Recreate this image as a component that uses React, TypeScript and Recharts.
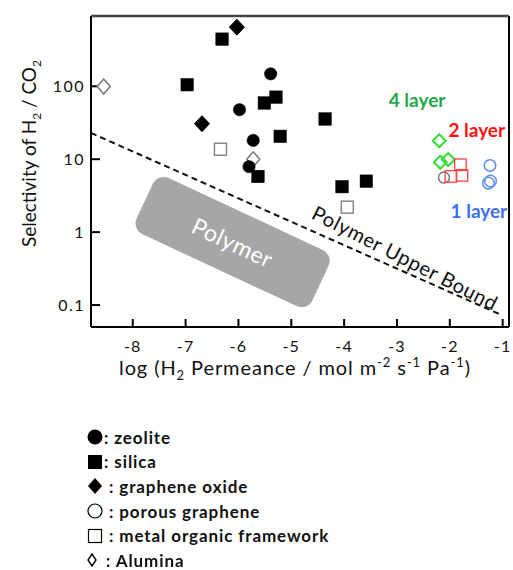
import {
  ComposedChart, Scatter, Line, XAxis, YAxis,
  ReferenceLine, ReferenceDot, Legend,
} from "recharts";

const FONT = "Lato, 'Open Sans', sans-serif";

// axes
const xTicks = [-8, -7, -6, -5, -4, -3, -2, -1];
const yTicks = [0.1, 1, 10, 100];
const xDomain = [-8.79, -0.88];
const yDomain = [0.05, 920];

// x = log permeance, y = selectivity
const zeolite = [
  { x: -5.39, y: 148 },
  { x: -5.98, y: 47.7 },
  { x: -5.72, y: 18.1 },
  { x: -5.8, y: 7.9 },
];
const silica = [
  { x: -6.31, y: 443 },
  { x: -6.97, y: 105 },
  { x: -5.51, y: 59 },
  { x: -5.29, y: 71 },
  { x: -5.21, y: 20.6 },
  { x: -5.63, y: 5.8 },
  { x: -4.36, y: 35.6 },
  { x: -4.04, y: 4.2 },
  { x: -3.58, y: 5.0 },
];
const grapheneOxide = [
  { x: -6.03, y: 646 },
  { x: -6.69, y: 30.7 },
];
const porousGraphene = [{ x: -2.11, y: 5.6 }];
const mof = [
  { x: -6.34, y: 13.7 },
  { x: -3.94, y: 2.2 },
];
const alumina = [
  { x: -8.55, y: 99 },
  { x: -5.72, y: 10 },
];
const layer1 = [
  { x: -1.24, y: 8.2 },
  { x: -1.27, y: 4.7 },
  { x: -1.23, y: 5.0 },
];
const layer2 = [
  { x: -1.8, y: 8.4 },
  { x: -1.77, y: 6.0 },
  { x: -1.98, y: 5.8 },
];
const layer4 = [
  { x: -2.2, y: 17.9 },
  { x: -2.18, y: 9.1 },
  { x: -2.03, y: 9.9 },
];
const upperBound = [
  { x: -8.79, y: 22.9 },
  { x: -1.05, y: 0.0746 },
];

const layerLabels = [
  { text: "4 layer", x: -2.62, y: 66, color: "#1fa84a" },
  { text: "2 layer", x: -1.49, y: 25.8, color: "#ff1010" },
  { text: "1 layer", x: -1.45, y: 1.98, color: "#3c6ef0" },
];
const polymerCenter = { x: -6.11, y: 0.73 };
const boundLabel = { x: -2.84, y: 0.45 };

const legendItems = [
  { label: ": zeolite", icon: "circle", gap: 1 },
  { label: ": silica", icon: "square", gap: 1 },
  { label: ": graphene oxide", icon: "diamond", gap: 6 },
  { label: ": porous graphene", icon: "hollowCircle", gap: 6 },
  { label: ": metal organic framework", icon: "hollowSquare", gap: 6 },
  { label: ": Alumina", icon: "hollowDiamond", gap: 3 },
];

// marker shapes
const dot = (fill: string, stroke: string, r: number, sw = 1.5) => (p: any) =>
  <circle cx={p.cx} cy={p.cy} r={r} fill={fill} stroke={stroke} strokeWidth={sw} />;
const box = (fill: string, stroke: string, s: number, sw = 1.5) => (p: any) =>
  <rect x={p.cx - s / 2} y={p.cy - s / 2} width={s} height={s} fill={fill} stroke={stroke} strokeWidth={sw} />;
const diamond = (fill: string, stroke: string, w: number, h: number, sw = 1.5) => (p: any) =>
  <path d={`M${p.cx},${p.cy - h}L${p.cx + w},${p.cy}L${p.cx},${p.cy + h}L${p.cx - w},${p.cy}Z`}
    fill={fill} stroke={stroke} strokeWidth={sw} strokeLinejoin="round" />;

const LegendIcon = ({ icon }: { icon: string }) => {
  const c = 8;
  let el = null;
  if (icon === "circle") el = <circle cx={c} cy={c} r={7.5} fill="#000" />;
  if (icon === "square") el = <rect x={1} y={1} width={14} height={14} fill="#000" />;
  if (icon === "diamond") el = <path d="M8,0L15,8L8,16L1,8Z" fill="#000" />;
  if (icon === "hollowCircle") el = <circle cx={c} cy={c} r={7} fill="none" stroke="#000" strokeWidth={1.2} />;
  if (icon === "hollowSquare") el = <rect x={1.5} y={1.5} width={13} height={13} fill="none" stroke="#000" strokeWidth={1.2} />;
  if (icon === "hollowDiamond") el = <path d="M5,2L9,8L5,14L1,8Z" fill="none" stroke="#000" strokeWidth={1.4} />;
  return <svg width={16} height={16} style={{ overflow: "visible", flex: "none" }}>{el}</svg>;
};

const MaterialLegend = () => (
  <div style={{ fontFamily: FONT, fontSize: 17, fontWeight: 700, color: "#111", letterSpacing: 0.9 }}>
    {legendItems.map((it) => (
      <div key={it.label} style={{ display: "flex", alignItems: "center", height: 24.6 }}>
        <LegendIcon icon={it.icon} />
        <span style={{ marginLeft: it.gap, whiteSpace: "pre" }}>{it.label}</span>
      </div>
    ))}
  </div>
);

const YLabel = (p: any) => {
  const vb = p.viewBox || { x: 0, y: 16, width: 91, height: 311 };
  const x = vb.x + 36;
  const y = vb.y + vb.height / 2 - 18;
  return (
    <text x={x} y={y} transform={`rotate(-90, ${x}, ${y})`} textAnchor="middle"
      fontSize={19} fontFamily={FONT} fill="#111">
      Selectivity of H<tspan dy={5} fontSize={12}>2</tspan>
      <tspan dy={-5}> / CO</tspan><tspan dy={5} fontSize={12}>2</tspan>
    </text>
  );
};

const XLabel = (p: any) => {
  const vb = p.viewBox || { x: 91, y: 327, width: 418, height: 60 };
  const x = vb.x + vb.width / 2 - 5;
  const y = vb.y + 48;
  return (
    <text x={x} y={y} textAnchor="middle" fontSize={20} fontFamily={FONT} fill="#111" letterSpacing={0.9}>
      log (H<tspan dy={5} fontSize={13}>2</tspan>
      <tspan dy={-5}> Permeance / mol m</tspan><tspan dy={-8} fontSize={13}>-2</tspan>
      <tspan dy={8}> s</tspan><tspan dy={-8} fontSize={13}>-1</tspan>
      <tspan dy={8}> Pa</tspan><tspan dy={-8} fontSize={13}>-1</tspan>
      <tspan dy={8}>)</tspan>
    </text>
  );
};

export default function App() {
  return (
    <div style={{ position: "fixed", left: 0, top: 0, width: 513, height: 570, background: "#fff" }}>
      <ComposedChart width={513} height={570} margin={{ top: 16, right: 4, bottom: 183, left: 0 }}>
        <XAxis type="number" dataKey="x" domain={xDomain} ticks={xTicks} allowDataOverflow
          height={60} tickSize={-8} tickMargin={22}
          axisLine={{ stroke: "#000", strokeWidth: 2 }} tickLine={{ stroke: "#000", strokeWidth: 2 }}
          tick={{ fontSize: 16, fill: "#111", fontFamily: FONT, letterSpacing: 1.2 }}
          label={{ content: (p: any) => <XLabel {...p} /> }} />
        <YAxis type="number" dataKey="y" scale="log" domain={yDomain} ticks={yTicks} allowDataOverflow
          width={91} tickSize={-9} tickMargin={15}
          axisLine={{ stroke: "#000", strokeWidth: 2 }} tickLine={{ stroke: "#000", strokeWidth: 2 }}
          tick={{ fontSize: 16, fill: "#111", fontFamily: FONT, letterSpacing: 1.5 }}
          label={{ content: (p: any) => <YLabel {...p} /> }} />
        <ReferenceLine y={yDomain[1]} stroke="#444" strokeWidth={2.5} />
        <ReferenceLine x={xDomain[1]} stroke="#000" strokeWidth={2} />

        <ReferenceDot x={polymerCenter.x} y={polymerCenter.y} shape={(p: any) => (
          <g transform={`translate(${p.cx},${p.cy}) rotate(25)`}>
            <rect x={-97} y={-31} width={194} height={62} rx={12} fill="#a6a6a6" />
            <text x={0} y={0} textAnchor="middle" dominantBaseline="central" fill="#fff"
              fontSize={23} fontFamily={FONT} letterSpacing={0.5}>Polymer</text>
          </g>
        )} />
        <Line data={upperBound} dataKey="y" stroke="#111" strokeWidth={2} strokeDasharray="6 4"
          dot={false} activeDot={false} isAnimationActive={false} legendType="none" />
        <ReferenceDot x={boundLabel.x} y={boundLabel.y} shape={(p: any) => (
          <text x={p.cx} y={p.cy} transform={`rotate(27, ${p.cx}, ${p.cy})`} textAnchor="middle"
            dominantBaseline="central" fontSize={20} fontFamily={FONT} fill="#111"
            letterSpacing={0.6}>Polymer Upper Bound</text>
        )} />
        {layerLabels.map((l) => (
          <ReferenceDot key={l.text} x={l.x} y={l.y} shape={(p: any) => (
            <text x={p.cx} y={p.cy} textAnchor="middle" dominantBaseline="central" fontSize={19}
              fontWeight={700} fontFamily={FONT} fill={l.color}>{l.text}</text>
          )} />
        ))}

        <Scatter name="alumina" data={alumina} isAnimationActive={false} shape={diamond("#fff", "#777", 6.5, 7.5, 1.5)} />
        <Scatter name="mof" data={mof} isAnimationActive={false} shape={box("#fff", "#888", 12, 1.5)} />
        <Scatter name="porous graphene" data={porousGraphene} isAnimationActive={false} shape={dot("none", "#777", 5.5, 1.5)} />
        <Scatter name="zeolite" data={zeolite} isAnimationActive={false} shape={dot("#000", "#000", 6.2, 0.5)} />
        <Scatter name="silica" data={silica} isAnimationActive={false} shape={box("#000", "#000", 12.5, 0.5)} />
        <Scatter name="graphene oxide" data={grapheneOxide} isAnimationActive={false} shape={diamond("#000", "#000", 7.5, 8, 1)} />
        <Scatter name="4 layer" data={layer4} isAnimationActive={false} shape={diamond("none", "#33dd33", 6.5, 6.5, 2)} />
        <Scatter name="2 layer" data={layer2} isAnimationActive={false} shape={box("none", "#ff4040", 11.5, 1.3)} />
        <Scatter name="1 layer" data={layer1} isAnimationActive={false} shape={dot("none", "#5b8def", 5.8, 1.5)} />

        <Legend layout="vertical" verticalAlign="middle" align="center"
          wrapperStyle={{ left: 87, top: 425, width: 340 }}
          content={() => <MaterialLegend />} />
      </ComposedChart>
    </div>
  );
}
